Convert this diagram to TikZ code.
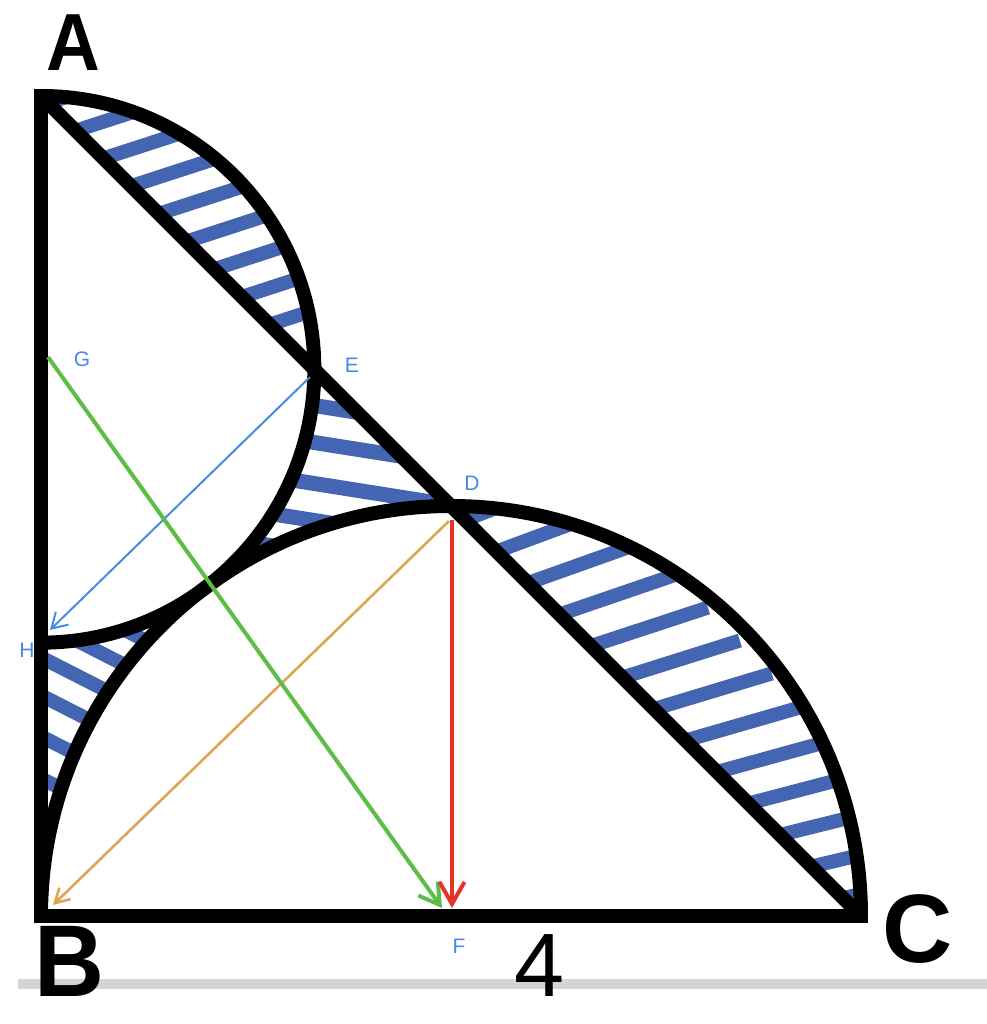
\documentclass[tikz,border=0pt]{standalone}
\usepackage{fontspec}
\setmainfont{Liberation Sans}
\usetikzlibrary{arrows.meta}
\definecolor{hatch}{RGB}{67,101,178}
\definecolor{lblblue}{RGB}{74,134,232}
\definecolor{arrblue}{RGB}{70,140,225}
\definecolor{arrgreen}{RGB}{92,190,72}
\definecolor{arrred}{RGB}{229,52,38}
\definecolor{arrorange}{RGB}{222,166,84}
\definecolor{bargray}{RGB}{212,212,212}
\begin{document}
\begin{tikzpicture}[x=102.5pt,y=102.5pt,
  outline/.style={line width=7pt, draw=black},
  stripe/.style={line width=7pt, draw=hatch},
  stripeb/.style={line width=7.5pt, draw=hatch},
  lbl/.style={text=lblblue, font=\fontsize{10.5}{10.5}\selectfont, inner sep=0pt},
  bigl/.style={font=\fontsize{48}{48}\selectfont\bfseries, inner sep=0pt},
  arrB/.style={draw=arrblue, line width=1pt, -{Straight Barb[length=7.5pt,width=9pt]}},
  arrG/.style={draw=arrgreen, line width=2pt, -{Straight Barb[length=10pt,width=12pt]}},
  arrR/.style={draw=arrred, line width=2pt, -{Straight Barb[length=11pt,width=12.5pt]}},
  arrO/.style={draw=arrorange, line width=1.3pt, -{Straight Barb[length=7pt,width=8pt]}}]
\useasboundingbox (-0.2,-0.52683) rectangle (4.61463,4.46829);
\fill[white] (-0.2,-0.52683) rectangle (4.61463,4.46829);
\fill[bargray] (-0.1122,-0.3073) rectangle (4.61463,-0.3561);

% geometry
\coordinate (B) at (0,0);
\coordinate (A) at (0,4);
\coordinate (C) at (4,0);
\coordinate (D) at (2,2);
\coordinate (E) at (4/3,8/3);
\coordinate (H) at (0,4/3);

% hatching: segment AE
\begin{scope}
\clip (A) arc[start angle=90,end angle=0,radius=136.667pt] -- cycle;
\foreach \k in {0,...,8}{
  \pgfmathsetmacro\yp{103+27.7*\k}
  \draw[stripe] ({(\yp-96)/205},{(916-\yp)/205}) ++(198:0.5) -- ++(18:1);
}
\end{scope}
% hatching: curved triangle EDT
\begin{scope}
\clip (E) -- (D) arc[start angle=90,end angle=126.87,radius=205pt]
      arc[start angle=-53.13,end angle=0,radius=136.667pt] -- cycle;
\foreach \yy in {2.4780,2.2976,2.0976,1.9171,1.7610}{
  \draw[stripeb] (1.4098,\yy) ++(171:0.6) -- ++(-9:1.2);
}
\end{scope}
% hatching: curved triangle HBT
\begin{scope}
\clip (H) -- (B) arc[start angle=180,end angle=126.87,radius=205pt]
      arc[start angle=-53.13,end angle=-90,radius=136.667pt] -- cycle;
\foreach \yy in {1.5561,1.3854,1.2146,1.0293,0.8293,0.6244}{
  \draw[stripe] (0.0927,\yy) ++(153:0.3) -- ++(-27:0.9);
}
\end{scope}
% hatching: segment DC
\begin{scope}
\clip (D) arc[start angle=90,end angle=0,radius=205pt] -- cycle;
\foreach \k in {0,...,12}{
  \pgfmathsetmacro\yp{520+31.5*\k}
  \pgfmathsetmacro\ang{21-0.7*\k}
  \pgfmathsetmacro\angb{\ang+180}
  \draw[stripe] ({(\yp-96)/205},{(916-\yp)/205}) ++(\angb:0.6) -- ++(\ang:1.2);
}
\end{scope}

% outlines
\draw[outline, line cap=rect, line join=miter] (A) -- (B) -- (C);
\draw[outline] (A) -- (C);
\draw[outline] (B) arc[start angle=180,end angle=0,radius=205pt];
\draw[outline] (A) arc[start angle=90,end angle=-90,radius=136.667pt];

% annotation arrows
\coordinate (Gs) at (0.0341,2.7268);
\coordinate (Fg) at (1.9561,0.0390);
\coordinate (Ds) at (2.0049,1.9317);
\coordinate (Fr) at (2.0049,0.0390);
\coordinate (Do) at (1.9902,1.9268);
\coordinate (Bo) at (0.0585,0.0537);
\coordinate (Eb) at (1.3122,2.6293);
\coordinate (Hb) at (0.0439,1.3951);
\draw[arrO] (Do) -- (Bo);
\draw[arrB] (Eb) -- (Hb);
\draw[arrG] (Gs) -- (Fg);
\draw[arrR] (Ds) -- (Fr);

% labels
\node[lbl] (lG) at (0.2,2.717) {G};
\node[lbl] (lE) at (1.517,2.688) {E};
\node[lbl] (lD) at (2.102,2.112) {D};
\node[lbl] (lH) at (-0.068,1.2976) {H};
\node[lbl] (lF) at (2.039,-0.1463) {F};
\node[bigl, font=\fontsize{40.5}{40.5}\selectfont\bfseries, xscale=0.92] (lA) at (0.1585,4.2585) {A};
\node[bigl, font=\fontsize{51}{51}\selectfont\bfseries, xscale=0.95] (lB) at (0.1366,-0.222) {B};
\node[bigl, font=\fontsize{48.6}{48.6}\selectfont\bfseries] (lC) at (4.278,-0.0634) {C};
\node[inner sep=0pt, font=\fontsize{45}{45}\selectfont] (l4) at (2.434,-0.2415) {4};
\end{tikzpicture}
\end{document}
